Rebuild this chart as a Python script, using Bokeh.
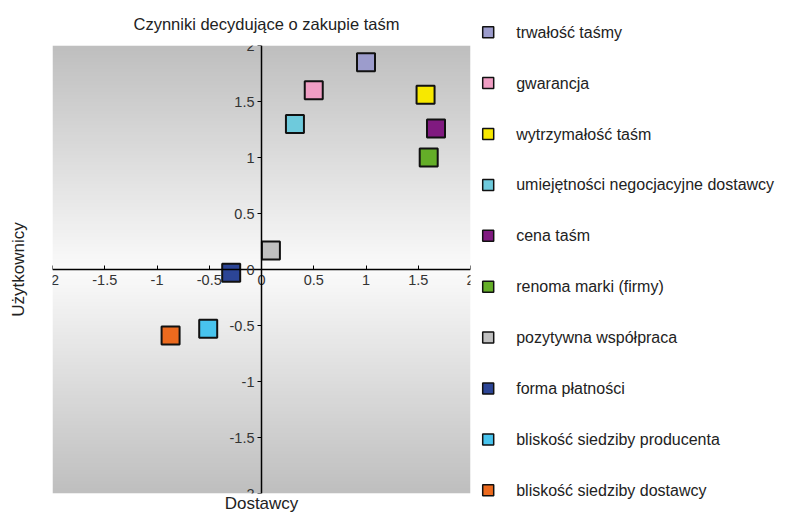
import numpy as np
from bokeh.plotting import figure
from bokeh.layouts import row
from bokeh.models import ColumnDataSource, LinearAxis, FixedTicker, Range1d
from bokeh.core.properties import value
from bokeh.embed import file_html
from bokeh.resources import INLINE

# ---- data ----
categories = [
    "trwałość taśmy",
    "gwarancja",
    "wytrzymałość taśm",
    "umiejętności negocjacyjne dostawcy",
    "cena taśm",
    "renoma marki (firmy)",
    "pozytywna współpraca",
    "forma płatności",
    "bliskość siedziby producenta",
    "bliskość siedziby dostawcy",
]
dostawcy = [1.00, 0.50, 1.57, 0.32, 1.67, 1.60, 0.09, -0.29, -0.51, -0.87]
uzytkownicy = [1.85, 1.60, 1.56, 1.30, 1.26, 1.00, 0.17, -0.03, -0.53, -0.59]
colors = ["#9c9ccc", "#f09ec4", "#f7e800", "#6ecadc", "#801a80",
          "#64ae28", "#c0c0c0", "#2c4596", "#48c4ee", "#ec6a1e"]
tick_values = [-2, -1.5, -1, -0.5, 0, 0.5, 1, 1.5, 2]
tick_labels = ["-2", "-1.5", "-1", "-0.5", "0", "0.5", "1", "1.5", "2"]

FONT = "Liberation Sans"
H = 516

# ---------------- main scatter plot ----------------
p = figure(width=475, height=H,
           x_range=Range1d(-2, 2), y_range=Range1d(-2, 2),
           output_backend="svg", toolbar_location=None,
           x_axis_location=None, y_axis_location=None,
           min_border_left=52, min_border_right=5,
           min_border_top=45, min_border_bottom=23,
           title="Czynniki decydujące o zakupie taśm")
p.grid.grid_line_color = None
p.outline_line_color = None

p.title.align = "left"
p.title.offset = 81
p.title.vertical_align = "top"
p.title.text_font = FONT
p.title.text_font_size = "16.5px"
p.title.text_font_style = "normal"
p.title.text_color = "#222222"
p.title.standoff = 22

# background gradient (grey at the edges, white in the middle)
N = 256
t = np.abs(np.linspace(-1, 1, N))
g = (251 - 60 * t).astype(np.uint8)
img = np.zeros((N, 1), dtype=np.uint32)
view = img.view(dtype=np.uint8).reshape((N, 1, 4))
view[:, 0, 0] = g
view[:, 0, 1] = g
view[:, 0, 2] = g
view[:, 0, 3] = 255
p.image_rgba(image=[img], x=-2, y=-2, dw=4, dh=4)

overrides = dict(zip(tick_values, tick_labels))

# axes crossing at (0, 0)
xaxis = LinearAxis(fixed_location=0, ticker=FixedTicker(ticks=tick_values),
                   major_label_overrides=overrides)
xaxis.bounds = (-2, 2)
xaxis.major_tick_in = 4
xaxis.major_tick_out = 0
xaxis.minor_tick_line_color = None
xaxis.axis_line_width = 1.5
xaxis.major_label_standoff = 5
xaxis.major_label_text_font = FONT
xaxis.major_label_text_font_size = "14.5px"
xaxis.major_label_text_color = "#333333"
p.add_layout(xaxis, "below")

yaxis = LinearAxis(fixed_location=0, ticker=FixedTicker(ticks=tick_values),
                   major_label_overrides=overrides)
yaxis.bounds = (-2, 2)
yaxis.major_tick_in = 0
yaxis.major_tick_out = 4
yaxis.minor_tick_line_color = None
yaxis.axis_line_width = 1.5
yaxis.major_label_standoff = 3
yaxis.major_label_text_font = FONT
yaxis.major_label_text_font_size = "14.5px"
yaxis.major_label_text_color = "#333333"
p.add_layout(yaxis, "left")

# axis titles carried by tick-less edge axes
def label_axis(text, standoff):
    ax = LinearAxis(ticker=FixedTicker(ticks=[]), axis_label=text)
    ax.axis_line_color = None
    ax.major_tick_line_color = None
    ax.minor_tick_line_color = None
    ax.major_label_text_font_size = "0px"
    ax.axis_label_standoff = standoff
    ax.axis_label_text_font = FONT
    ax.axis_label_text_font_size = "17px"
    ax.axis_label_text_font_style = "normal"
    ax.axis_label_text_color = "#222222"
    return ax

p.add_layout(label_axis("Dostawcy", 0), "below")
p.add_layout(label_axis("Użytkownicy", 25), "left")

src = ColumnDataSource(dict(x=dostawcy, y=uzytkownicy, c=colors, name=categories))
p.scatter("x", "y", source=src, marker="square", size=18,
          fill_color="c", line_color="#111111", line_width=2)

# ---------------- legend panel ----------------
LW = 307
lg = figure(width=LW, height=H, x_range=Range1d(0, LW), y_range=Range1d(H, 0),
            output_backend="svg", toolbar_location=None,
            x_axis_location=None, y_axis_location=None,
            min_border=0, min_border_left=0, min_border_right=0,
            min_border_top=0, min_border_bottom=0)
lg.grid.grid_line_color = None
lg.outline_line_color = None
for fig in (p, lg):
    if "frame_align" in fig.properties():
        fig.frame_align = False

row_first, row_pitch = 31.7, 50.9
lsrc = ColumnDataSource(dict(
    y=[row_first + row_pitch * i for i in range(len(categories))],
    c=colors, label=categories))
lg.scatter(x=12.7, y="y", source=lsrc, marker="square", size=11,
           fill_color="c", line_color="#111111", line_width=1.5)
lg.text(x=40.7, y="y", text="label", source=lsrc,
        text_font=value(FONT), text_font_size="16px",
        text_baseline="middle", text_align="left", text_color="#222222")

layout = row(p, lg)
open("out.html", "w").write(file_html(layout, INLINE))
